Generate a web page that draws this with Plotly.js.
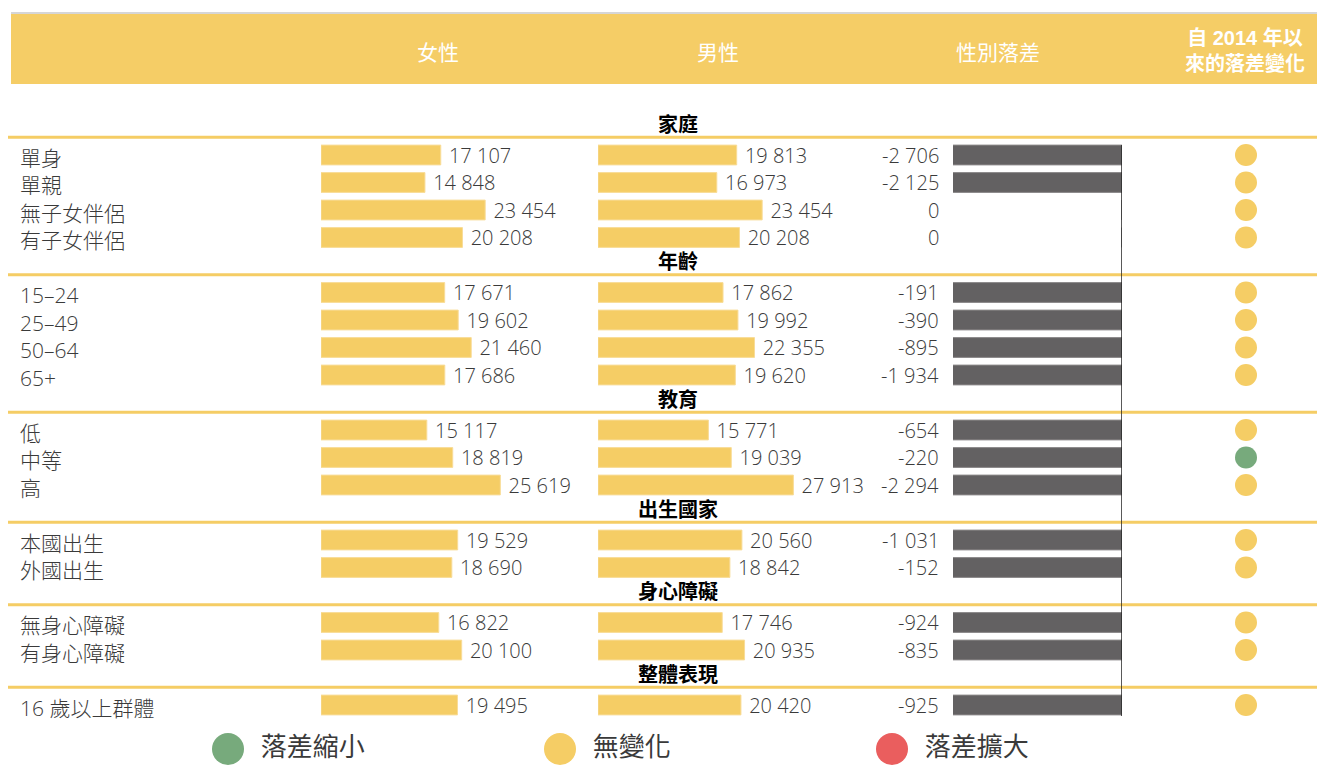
<!DOCTYPE html>
<html><head><meta charset="utf-8">
<script src="https://cdn.plot.ly/plotly-3.0.1.min.js"></script>
<style>html,body{margin:0;padding:0;background:#fff;} #chart{width:1317px;height:769px;}</style>
</head><body><div id="chart"></div>
<script>
// ---------- data ----------
const sections = ['家庭','年齡','教育','出生國家','身心障礙','整體表現'];
const sectionSizes = [4,4,3,2,2,1];
const categories = ['單身','單親','無子女伴侶','有子女伴侶','15–24','25–49','50–64','65+','低','中等','高','本國出生','外國出生','無身心障礙','有身心障礙','16 歲以上群體'];
const women = [17107,14848,23454,20208,17671,19602,21460,17686,15117,18819,25619,19529,18690,16822,20100,19495];
const men = [19813,16973,23454,20208,17862,19992,22355,19620,15771,19039,27913,20560,18842,17746,20935,20420];
const gap = [-2706,-2125,0,0,-191,-390,-895,-1934,-654,-220,-2294,-1031,-152,-924,-835,-925];
const change = ['無變化','無變化','無變化','無變化','無變化','無變化','無變化','無變化','無變化','落差縮小','無變化','無變化','無變化','無變化','無變化','無變化'];
const legendLabels = ['落差縮小','無變化','落差擴大'];
const headers = ['女性','男性','性別落差','自 <b>2014</b> 年以<br>來的落差變化'];

// ---------- style ----------
const W = 1317, H = 769;
const YELLOW = '#F5CD65', HEADER = '#F5CD66', GRAY = '#636162', GREEN = '#77AA7C', RED = '#EA5E5E';
const statusColor = {'落差縮小': GREEN, '無變化': YELLOW, '落差擴大': RED};
const NUMF = "'Open Sans', 'Noto Sans CJK TC', sans-serif";
const CJKF = "'Noto Sans CJK TC', 'Open Sans', sans-serif";
const TXT = '#3a3a3a';

// row slots (one empty slot between sections for the section title)
const rowSlot = [], secFirst = [];
let s = 0;
sections.forEach((sec, i) => {
  if (i > 0) s += 1;
  secFirst.push(s);
  for (let k = 0; k < sectionSizes[i]; k++) { rowSlot.push(s); s++; }
});
const lastSlot = rowSlot[rowSlot.length - 1];
const ROWPX = 27.5, FIRSTPX = 155;
const yTop = -FIRSTPX / ROWPX, yBot = (H - FIRSTPX) / ROWPX;

function fmt(v) {
  const sgn = v < 0 ? '-' : '';
  return sgn + Math.abs(v).toString().replace(/\B(?=(\d{3})+(?!\d))/g, ' ');
}
const K = 0.0070; // px per unit for women/men bars
const wDom = [321, 590], mDom = [598, 870], gDom = [953, 1122], dDom = [1200, 1292];

const barCommon = {
  type: 'bar', orientation: 'h', width: 0.72, hoverinfo: 'skip', yaxis: 'y',
  textposition: 'outside', constraintext: 'none', cliponaxis: false,
  textfont: {family: NUMF, size: 20, color: TXT, weight: 300}
};

const traces = [
  Object.assign({}, barCommon, {x: women, y: rowSlot, xaxis: 'x', text: women.map(v => ' ' + fmt(v)),
    marker: {color: YELLOW, line: {width: 1, color: '#F8DC98'}}}),
  Object.assign({}, barCommon, {x: men, y: rowSlot, xaxis: 'x2', text: men.map(v => ' ' + fmt(v)),
    marker: {color: YELLOW, line: {width: 1, color: '#F8DC98'}}}),
  {type: 'bar', orientation: 'h', width: 0.72, x: gap, y: rowSlot, xaxis: 'x3', yaxis: 'y',
    marker: {color: GRAY, line: {width: 1, color: '#8a8889'}}, hoverinfo: 'skip'},
  {type: 'scatter', mode: 'markers', x: rowSlot.map(() => 0), y: rowSlot, xaxis: 'x4', yaxis: 'y',
    marker: {size: 22, color: change.map(c => statusColor[c])}, hoverinfo: 'skip'},
  {type: 'scatter', mode: 'markers+text', x: legendLabels.map((l, i) => i), y: legendLabels.map(() => lastSlot + 1.6),
    xaxis: 'x5', yaxis: 'y', text: legendLabels.map(l => '  ' + l), textposition: 'middle right', cliponaxis: false,
    textfont: {family: CJKF, size: 26, color: TXT},
    marker: {size: 32, color: legendLabels.map(l => statusColor[l])}, hoverinfo: 'skip'}
];

const shapes = [
  {type: 'rect', xref: 'paper', yref: 'paper', x0: 11 / W, x1: 1, y0: 1 - 84 / H, y1: 1 - 14 / H, fillcolor: HEADER, line: {width: 0}, layer: 'below'},
  {type: 'line', xref: 'paper', yref: 'paper', x0: 11 / W, x1: 1, y0: 1 - 13 / H, y1: 1 - 13 / H, line: {color: '#d6d6d6', width: 2}},
  {type: 'line', xref: 'x3', yref: 'y', x0: 0, x1: 0, y0: -0.36, y1: lastSlot + 0.4, line: {color: '#222', width: 1.5}}
];
secFirst.forEach(f => shapes.push({type: 'line', xref: 'paper', yref: 'y', x0: 8 / W, x1: 1, y0: f - 0.65, y1: f - 0.65, line: {color: YELLOW, width: 3}, layer: 'below'}));

const annotations = [];
const hx = [438, 718, 998, 1245];
headers.forEach((h, i) => annotations.push({xref: 'paper', yref: 'paper', x: hx[i] / W, y: 1 - 51 / H, text: h, showarrow: false,
  xanchor: 'center', yanchor: 'middle', align: 'center',
  font: i === 3 ? {family: "'Liberation Sans', 'Noto Sans CJK TC', sans-serif", size: 20, color: '#fff', weight: 'bold'} : {family: CJKF, size: 21, color: '#fff'}}));
sections.forEach((sec, i) => annotations.push({xref: 'paper', yref: 'y', x: 678 / W, y: secFirst[i] - 1.15, text: '<b>' + sec + '</b>', showarrow: false,
  xanchor: 'center', yanchor: 'middle', font: {family: CJKF, size: 20, color: '#000'}}));
categories.forEach((c, i) => annotations.push({xref: 'paper', yref: 'y', x: 18 / W, y: rowSlot[i] + 0.1, text: c, showarrow: false,
  xanchor: 'left', yanchor: 'middle', font: {family: NUMF, size: 21, color: TXT, weight: 300}}));
gap.forEach((g, i) => annotations.push({xref: 'paper', yref: 'y', x: 941 / W, y: rowSlot[i], text: fmt(g), showarrow: false,
  xanchor: 'right', yanchor: 'middle', font: {family: NUMF, size: 20, color: TXT, weight: 300}}));

const axBase = {visible: false, anchor: 'y', fixedrange: true, showgrid: false, zeroline: false};
const layout = {
  width: W, height: H, margin: {l: 0, r: 0, t: 0, b: 0},
  paper_bgcolor: '#fff', plot_bgcolor: 'rgba(0,0,0,0)', showlegend: false,
  xaxis: Object.assign({}, axBase, {domain: [wDom[0] / W, wDom[1] / W], range: [0, (wDom[1] - wDom[0]) / K]}),
  xaxis2: Object.assign({}, axBase, {domain: [mDom[0] / W, mDom[1] / W], range: [0, (mDom[1] - mDom[0]) / K]}),
  xaxis3: Object.assign({}, axBase, {domain: [gDom[0] / W, gDom[1] / W], range: [-140, 0]}),
  xaxis4: Object.assign({}, axBase, {domain: [dDom[0] / W, dDom[1] / W], range: [-1, 1]}),
  xaxis5: Object.assign({}, axBase, {domain: [0, 1], range: [-228 / 332, (W - 228) / 332]}),
  yaxis: {visible: false, range: [yBot, yTop], fixedrange: true, showgrid: false, zeroline: false, domain: [0, 1]},
  shapes: shapes, annotations: annotations
};
Plotly.newPlot('chart', traces, layout, {displayModeBar: false, staticPlot: true});
</script>
</body></html>
